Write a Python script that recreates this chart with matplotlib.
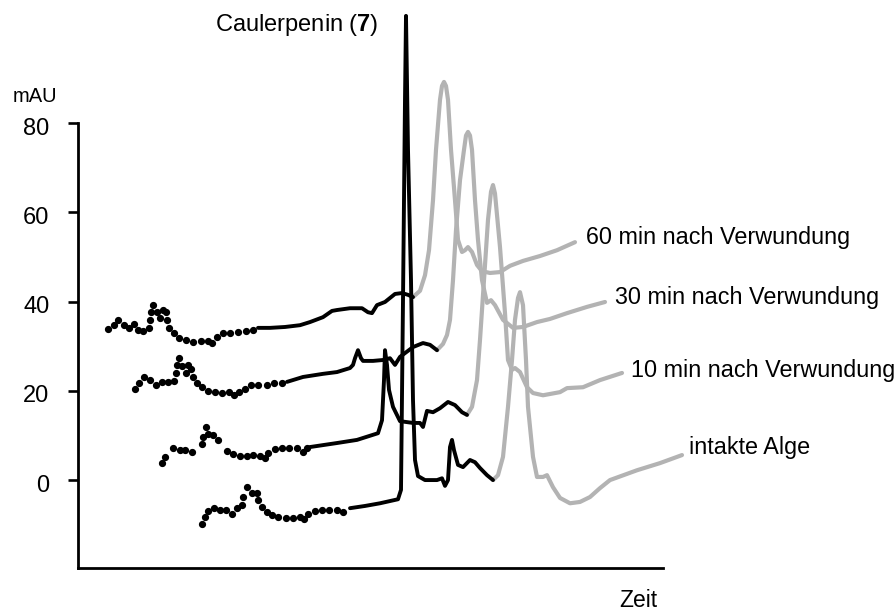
import numpy as np
import matplotlib.pyplot as plt
from matplotlib import transforms

plt.rcParams['font.family'] = ['Liberation Sans', 'DejaVu Sans']
plt.rcParams['mathtext.fontset'] = 'custom'
plt.rcParams['mathtext.rm'] = 'Liberation Sans'
plt.rcParams['mathtext.bf'] = 'Liberation Sans:bold'

# Zeit in willkuerlichen Einheiten, Signal in mAU
# --- 60 min nach Verwundung ---
t60_dot = [3.0, 3.6, 4.0, 4.6, 5.1, 5.6, 6.0, 6.5, 7.1, 7.2, 7.3, 7.5, 7.9, 8.2, 8.5, 8.8,
           8.9, 9.1, 9.6, 10.1, 10.8, 11.5, 12.3, 13.0, 13.4, 13.9, 14.5, 15.2, 16.0, 16.8, 17.5]
y60_dot = [33.8, 34.7, 35.9, 34.7, 34.1, 35.0, 33.7, 33.4, 34.1, 35.9, 37.6, 39.2, 37.7, 36.4, 38.1, 37.7,
           35.9, 34.1, 32.9, 31.9, 31.4, 31.0, 31.1, 31.2, 30.8, 32.1, 32.9, 33.0, 33.2, 33.5, 33.6]
t60_blk = [18.0, 19.2, 20.7, 22.2, 23.2, 24.5, 25.4, 25.9, 27.2, 28.4, 29.0, 29.4, 29.9, 30.7,
           31.7, 32.4, 33.0, 33.5]
y60_blk = [34.1, 34.1, 34.3, 34.7, 35.4, 36.5, 37.9, 38.1, 38.5, 38.5, 37.6, 37.4, 39.2, 39.9,
           41.7, 41.9, 41.5, 41.0]
t60_gry = [33.5, 34.2, 34.7, 35.1, 35.5, 35.8, 36.2, 36.4, 36.6, 36.8, 37.0, 37.3, 37.7, 38.0,
           38.4, 38.7, 39.0, 39.4, 39.9, 40.4, 41.2, 42.2, 43.2, 44.5, 46.2, 47.9, 49.7]
y60_gry = [41.0, 42.4, 45.9, 51.5, 62.7, 74.0, 85.2, 88.3, 89.2, 88.3, 85.2, 74.0, 62.7, 53.8,
           51.1, 51.5, 52.2, 51.1, 48.2, 46.8, 46.4, 46.6, 48.0, 49.1, 50.2, 51.5, 53.3]

# --- 30 min nach Verwundung ---
t30_dot = [5.7, 6.1, 6.6, 7.2, 7.8, 8.4, 9.0, 9.6, 9.8, 9.9, 10.1, 10.4, 10.8, 11.0, 11.3, 11.5,
           11.9, 12.4, 13.0, 13.7, 14.4, 15.1, 15.6, 16.1, 16.7, 17.3, 18.0, 18.9, 19.6, 20.4]
y30_dot = [20.5, 21.7, 23.1, 22.4, 21.4, 21.9, 21.9, 22.2, 23.9, 25.8, 27.3, 25.5, 24.1, 25.8, 24.9, 23.1,
           21.7, 20.9, 20.0, 19.7, 19.4, 19.8, 19.0, 19.8, 20.5, 21.3, 21.3, 21.4, 21.7, 21.7]
t30_blk = [20.9, 22.5, 24.5, 25.9, 27.2, 27.5, 27.7, 28.0, 28.3, 28.5, 29.5, 30.5, 31.2, 31.7,
           32.2, 33.5, 34.5, 35.2, 35.9]
y30_blk = [22.0, 23.1, 23.8, 24.2, 25.1, 25.8, 27.3, 29.1, 27.3, 26.7, 26.7, 26.9, 27.3, 25.8,
           27.6, 29.8, 30.7, 30.3, 29.1]
t30_gry = [35.9, 36.5, 36.9, 37.2, 37.5, 37.8, 38.2, 38.6, 38.8, 39.0, 39.2, 39.4, 39.7, 40.0,
           40.4, 40.9, 41.3, 41.7, 42.5, 43.5, 44.5, 45.9, 47.2, 48.9, 50.9, 52.7]
y30_gry = [29.1, 30.5, 32.5, 35.9, 44.8, 56.0, 67.2, 74.0, 77.2, 78.0, 77.2, 74.0, 62.7, 53.8,
           44.8, 39.7, 40.3, 39.2, 35.9, 34.1, 34.3, 35.4, 36.1, 37.4, 38.8, 39.9]

# --- 10 min nach Verwundung ---
t10_dot = [8.4, 8.7, 9.5, 10.2, 10.7, 11.4, 12.4, 12.5, 12.8, 13.0, 13.5, 14.0, 14.9, 15.5, 16.2,
           16.9, 17.5, 18.2, 18.7, 19.0, 19.7, 20.4, 21.1, 21.9, 22.5, 22.9]
y10_dot = [3.9, 5.2, 7.1, 6.7, 6.7, 6.2, 8.0, 9.7, 11.9, 10.3, 10.1, 9.0, 6.6, 5.8, 5.4,
           5.4, 5.6, 5.4, 4.9, 6.0, 6.9, 7.1, 7.1, 7.1, 6.2, 7.1]
t10_blk = [23.2, 25.9, 27.9, 30.0, 30.4, 30.6, 30.7, 30.9, 31.1, 31.5, 32.2, 33.5, 34.2, 34.5,
           34.9, 35.5, 36.2, 37.0, 37.7, 38.4, 38.9]
y10_blk = [7.4, 8.3, 9.0, 10.5, 13.4, 22.4, 29.1, 25.8, 20.2, 16.4, 13.2, 12.8, 12.8, 11.9,
           15.5, 15.2, 16.1, 17.5, 16.8, 15.2, 14.6]
t10_gry = [38.9, 39.4, 39.9, 40.2, 40.6, 41.0, 41.3, 41.5, 41.7, 41.9, 42.2, 42.7, 43.0, 43.4,
           43.7, 44.2, 44.9, 45.5, 46.5, 48.2, 48.9, 50.5, 52.2, 54.4]
y10_gry = [14.6, 16.4, 22.4, 31.4, 44.8, 58.3, 64.6, 66.1, 64.2, 59.4, 52.2, 37.4, 26.9, 24.7,
           25.1, 24.2, 20.8, 19.5, 19.0, 19.7, 20.6, 20.8, 22.4, 24.0]

# --- intakte Alge ---
t0_dot = [12.4, 12.7, 13.0, 13.6, 14.2, 14.8, 15.4, 15.9, 16.4, 16.5, 16.9, 17.4, 17.9, 18.0,
          18.4, 18.9, 19.4, 20.0, 20.8, 21.5, 22.2, 22.6, 23.0, 23.7, 24.4, 25.1, 25.9, 26.5]
y0_dot = [-9.9, -8.3, -6.9, -6.3, -6.7, -6.7, -7.5, -6.2, -5.6, -3.7, -1.6, -3.0, -2.8, -4.5,
          -6.0, -7.1, -7.8, -8.2, -8.4, -8.4, -8.2, -8.8, -7.5, -6.9, -6.6, -6.6, -6.7, -7.1]
t0_blk = [27.2, 28.7, 30.2, 32.0, 32.3, 32.5, 32.7, 32.8, 33.0, 33.3, 33.5, 33.7, 34.0, 34.7,
          35.9, 36.4, 36.7, 37.0, 37.2, 37.4, 37.6, 38.0, 38.5, 39.2, 39.7, 40.2, 40.9, 41.5]
y0_blk = [-6.3, -5.8, -5.2, -4.3, -2.2, 40.3, 85.2, 104.0, 74.0, 44.8, 17.9, 4.5, 0.9, 0.0,
          0.0, 0.4, -1.3, 0.0, 7.4, 9.0, 6.7, 3.4, 2.9, 4.5, 4.0, 2.7, 1.1, 0.0]
t0_gry = [41.5, 42.0, 42.5, 43.0, 43.4, 43.7, 44.0, 44.2, 44.5, 44.8, 45.0, 45.5, 45.9, 46.5,
          46.9, 47.5, 48.2, 49.2, 50.2, 51.2, 52.2, 53.2, 55.9, 58.2, 60.4]
y0_gry = [0.0, 1.1, 5.2, 16.4, 26.9, 35.9, 40.8, 42.1, 39.2, 26.9, 16.4, 5.2, 0.7, 0.7,
          1.1, -1.6, -4.0, -5.2, -4.9, -3.8, -1.8, 0.0, 2.2, 3.8, 5.6]

labels = ['60 min nach Verwundung', '30 min nach Verwundung', '10 min nach Verwundung', 'intakte Alge']
label_t = [50.8, 53.7, 55.3, 61.1]
label_y = [54.4, 41.0, 24.6, 7.2]

fig = plt.figure(figsize=(8.96, 6.13), dpi=100)
ax = fig.add_axes([78/896, 45/613, 585/896, 445/613])

grey = '#b3b3b3'
traces = [(t60_dot, y60_dot, t60_blk, y60_blk, t60_gry, y60_gry),
          (t30_dot, y30_dot, t30_blk, y30_blk, t30_gry, y30_gry),
          (t10_dot, y10_dot, t10_blk, y10_blk, t10_gry, y10_gry),
          (t0_dot, y0_dot, t0_blk, y0_blk, t0_gry, y0_gry)]

for td, yd, tb, yb, tg, yg in traces:
    ax.plot(tg, yg, color=grey, lw=3.0, solid_joinstyle='round', solid_capstyle='round', clip_on=False, zorder=2)
for td, yd, tb, yb, tg, yg in traces:
    ax.plot(tb, yb, color='black', lw=2.8, solid_joinstyle='round', solid_capstyle='round', clip_on=False, zorder=3)
    ax.plot(td, yd, 'o', color='black', ms=4.2, clip_on=False, zorder=3)

for lb, lt, ly in zip(labels, label_t, label_y):
    ax.text(lt, ly, lb, fontsize=16.8, va='center', ha='left')

ax.text(13.7, 102.0, 'Caulerpenin ($\\mathbf{7}$)', fontsize=17, va='center', ha='left')
ax.text(-6.5, 86.0, 'mAU', fontsize=14.5, va='center', ha='left')
ax.text(54.1, -27.0, 'Zeit', fontsize=16.5, va='center', ha='left')

ax.set_xlim(0, 58.5)
ax.set_ylim(-19.7, 80)
ax.set_xticks([])
ax.set_yticks([0, 20, 40, 60, 80])
ax.tick_params(axis='y', direction='out', length=7.2, width=1.9, pad=13.5, labelsize=17)
for s in ['top', 'right']:
    ax.spines[s].set_visible(False)
for s in ['left', 'bottom']:
    ax.spines[s].set_linewidth(2.0)
off = transforms.ScaledTranslation(0, -3/100, fig.dpi_scale_trans)
for lab in ax.get_yticklabels():
    lab.set_transform(lab.get_transform() + off)

fig.savefig('out.png', dpi=100)
